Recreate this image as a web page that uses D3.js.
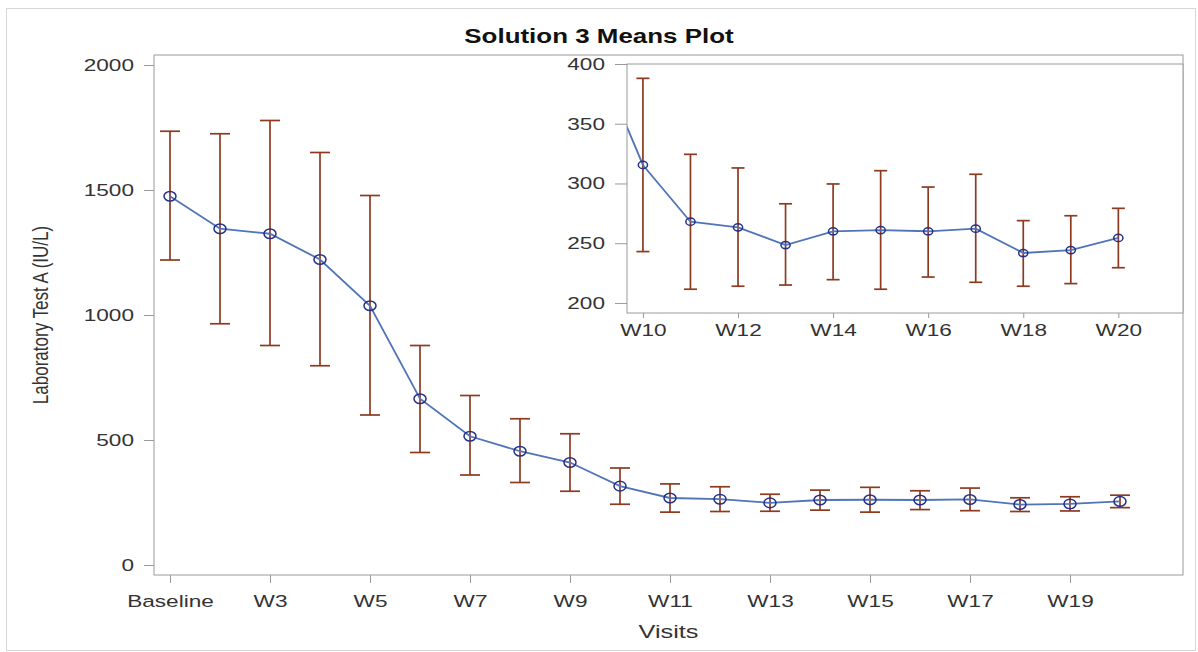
<!DOCTYPE html>
<html><head><meta charset="utf-8">
<script src="https://cdn.jsdelivr.net/npm/d3@7"></script>
<style>
body{margin:0;background:#fff;}
svg text{font-family:"Liberation Sans",Arial,sans-serif;}
</style></head><body>
<svg id="c" width="1198" height="652"></svg>
<script>
const visits = ["Baseline","W2","W3","W4","W5","W6","W7","W8","W9","W10","W11","W12","W13","W14","W15","W16","W17","W18","W19","W20"];
const means  = [1475,1345,1325,1222,1037,665,515,455,410,315.5,268,263.3,248.5,260,261,260,262.2,241.8,244.3,254.4];
const upper  = [1735,1725,1778,1650,1478,878,678,585,525,388,324.4,313,283,299.6,310.7,297,307.7,268.9,273,279.2];
const lower  = [1220,965,878,797,600,450,360,330,295,243,211.5,214,215,219.5,211.5,221.7,217.3,214,216.2,229.5];
const mainYTicks = [0,500,1000,1500,2000];
const mainXTicks = ["Baseline","W3","W5","W7","W9","W11","W13","W15","W17","W19"];
const insetYTicks = [200,250,300,350,400];
const insetXTicks = ["W10","W12","W14","W16","W18","W20"];
const insetVisits = visits.slice(9);

const SX = 1.33; // horizontal stretch of the original picture
const data = visits.map((v,i)=>({v,i,m:means[i],hi:upper[i],lo:lower[i]}));
const svg = d3.select("#c");
const frameCol="#9a9a9a", txtCol="#333", lineCol="#4f74b8", ptCol="#262f88", errCol="#8c3a20";

svg.append("rect").attr("x",6.5).attr("y",8.5).attr("width",1189).attr("height",642)
  .attr("fill","none").attr("stroke","#d6d6d6");

svg.append("text").attr("transform",`translate(599,43) scale(${SX},1)`).attr("text-anchor","middle")
  .attr("font-size",19.5).attr("font-weight","bold").attr("fill","#111")
  .text("Solution 3 Means Plot");

function styleAxis(g){
  g.select(".domain").remove();
  g.selectAll("line").attr("stroke",frameCol);
  g.selectAll("text").attr("font-size",17).attr("fill",txtCol).each(function(){
    const t=d3.select(this); const x=+t.attr("x")||0;
    t.attr("x",x/SX).attr("transform",`scale(${SX},1)`);
  });
}

// main plot
const L=154,R=1183,T=55,B=575;
const x = d3.scaleLinear().domain([-0.32,20.26]).range([L,R]);
const y = d3.scaleLinear().domain([-40,2040]).range([B,T]);
const idx = v=>visits.indexOf(v);

styleAxis(svg.append("g").attr("transform",`translate(${L},0)`)
  .call(d3.axisLeft(y).tickValues(mainYTicks).tickFormat(d3.format("d")).tickSize(10).tickPadding(10)));
styleAxis(svg.append("g").attr("transform",`translate(0,${B})`)
  .call(d3.axisBottom(x).tickValues(mainXTicks.map(idx)).tickFormat(i=>visits[i]).tickSize(8).tickPadding(12)));
svg.append("rect").attr("x",L).attr("y",T).attr("width",R-L).attr("height",B-T)
  .attr("fill","none").attr("stroke",frameCol);

svg.append("text").attr("transform",`translate(48,${(T+B)/2}) rotate(-90) scale(1,${SX})`)
  .attr("text-anchor","middle").attr("font-size",17).attr("fill",txtCol)
  .text("Laboratory Test A (IU/L)");
svg.append("text").attr("transform",`translate(${(L+R)/2},638) scale(${SX},1)`).attr("text-anchor","middle")
  .attr("font-size",19).attr("fill",txtCol).text("Visits");

function drawSeries(g, xs, ys, cap, rx, ry, d){
  const eb = g.append("g").attr("stroke",errCol).attr("stroke-width",1.7);
  d.forEach(p=>{
    eb.append("line").attr("x1",xs(p.i)).attr("x2",xs(p.i)).attr("y1",ys(p.hi)).attr("y2",ys(p.lo));
    eb.append("line").attr("x1",xs(p.i)-cap).attr("x2",xs(p.i)+cap).attr("y1",ys(p.hi)).attr("y2",ys(p.hi));
    eb.append("line").attr("x1",xs(p.i)-cap).attr("x2",xs(p.i)+cap).attr("y1",ys(p.lo)).attr("y2",ys(p.lo));
  });
  g.append("path").datum(d).attr("fill","none").attr("stroke",lineCol).attr("stroke-width",1.8)
    .attr("d",d3.line().x(p=>xs(p.i)).y(p=>ys(p.m)));
  g.append("g").selectAll("ellipse").data(d).join("ellipse")
    .attr("cx",p=>xs(p.i)).attr("cy",p=>ys(p.m)).attr("rx",rx).attr("ry",ry)
    .attr("fill","none").attr("stroke",ptCol).attr("stroke-width",1.5);
}
drawSeries(svg.append("g"), x, y, 10, 6, 4.8, data);

// inset
const iL=627,iR=1183,iT=64,iB=313;
const xi = d3.scaleLinear().domain([8.665,20.36]).range([iL,iR]);
const yi = d3.scaleLinear().domain([191.6,400]).range([iB,iT]);
svg.append("rect").attr("x",iL).attr("y",iT).attr("width",iR-iL).attr("height",iB-iT).attr("fill","#fff");
svg.append("clipPath").attr("id","ic").append("rect").attr("x",iL).attr("y",iT).attr("width",iR-iL).attr("height",iB-iT);
const ig = svg.append("g").attr("clip-path","url(#ic)");
drawSeries(ig, xi, yi, 6.5, 4.6, 3.6, data.filter(p=>p.i>=8));
styleAxis(svg.append("g").attr("transform",`translate(${iL},0)`)
  .call(d3.axisLeft(yi).tickValues(insetYTicks).tickSize(12).tickPadding(10)));
styleAxis(svg.append("g").attr("transform",`translate(0,${iB})`)
  .call(d3.axisBottom(xi).tickValues(insetXTicks.map(idx)).tickFormat(i=>visits[i]).tickSize(5).tickPadding(6)));
svg.append("rect").attr("x",iL).attr("y",iT).attr("width",iR-iL).attr("height",iB-iT)
  .attr("fill","none").attr("stroke",frameCol);
</script></body></html>
